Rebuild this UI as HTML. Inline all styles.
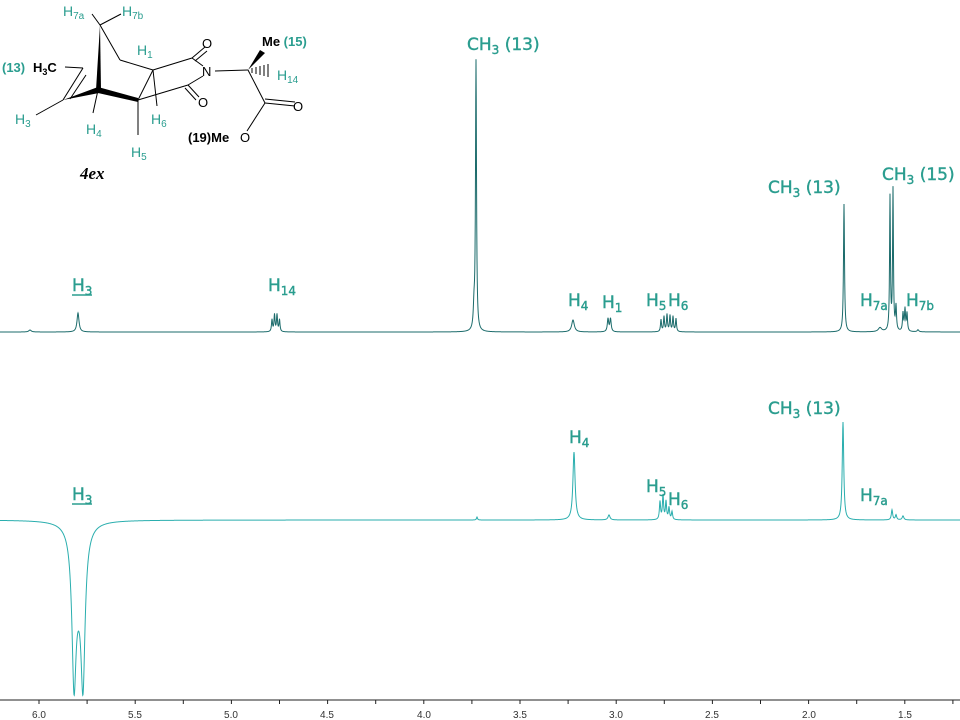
<!DOCTYPE html>
<html><head><meta charset="utf-8"><style>
html,body{margin:0;padding:0;background:#fff;}
svg{display:block;}
.lb{font-family:"DejaVu Sans","Liberation Sans",sans-serif;fill:#2a9d8f;font-size:17px;stroke:#2a9d8f;stroke-width:0.4;}
.ax{font-family:"Liberation Sans",sans-serif;font-size:10px;fill:#333;}
.st{font-family:"Liberation Sans",sans-serif;font-size:13px;}
</style></head><body>
<svg id="s" width="960" height="720" viewBox="0 0 960 720" xmlns="http://www.w3.org/2000/svg">
<path id="top" fill="none" stroke="#1b6b6b" stroke-width="1"/>
<path id="bot" fill="none" stroke="#2aaeae" stroke-width="1"/>
<line x1="0" y1="700" x2="960" y2="700" stroke="#222" stroke-width="1"/>
<g id="ticks" stroke="#222" stroke-width="1"></g>
<g class="ax" text-anchor="middle">
<text x="39" y="718">6.0</text><text x="135" y="718">5.5</text><text x="231" y="718">5.0</text><text x="327" y="718">4.5</text><text x="424" y="718">4.0</text><text x="520" y="718">3.5</text><text x="616" y="718">3.0</text><text x="712" y="718">2.5</text><text x="809" y="718">2.0</text><text x="905" y="718">1.5</text>
</g>
<g class="lb">
<text x="467" y="50">CH<tspan font-size="12" dy="4">3</tspan><tspan dy="-4"> (13)</tspan></text>
<text x="768" y="193">CH<tspan font-size="12" dy="4">3</tspan><tspan dy="-4"> (13)</tspan></text>
<text x="882" y="180">CH<tspan font-size="12" dy="4">3</tspan><tspan dy="-4"> (15)</tspan></text>
<text x="72" y="291">H<tspan font-size="12" dy="4">3</tspan></text>
<line x1="72" y1="295" x2="92" y2="295" stroke="#2a9d8f" stroke-width="1.5"/>
<text x="268" y="291">H<tspan font-size="12" dy="4">14</tspan></text>
<text x="568" y="306">H<tspan font-size="12" dy="4">4</tspan></text>
<text x="602" y="308">H<tspan font-size="12" dy="4">1</tspan></text>
<text x="646" y="306">H<tspan font-size="12" dy="4">5</tspan></text>
<text x="668" y="306">H<tspan font-size="12" dy="4">6</tspan></text>
<text x="860" y="306">H<tspan font-size="12" dy="4">7a</tspan></text>
<text x="906" y="306">H<tspan font-size="12" dy="4">7b</tspan></text>
<text x="768" y="414">CH<tspan font-size="12" dy="4">3</tspan><tspan dy="-4"> (13)</tspan></text>
<text x="569" y="443">H<tspan font-size="12" dy="4">4</tspan></text>
<text x="646" y="492">H<tspan font-size="12" dy="4">5</tspan></text>
<text x="668" y="505">H<tspan font-size="12" dy="4">6</tspan></text>
<text x="860" y="501">H<tspan font-size="12" dy="4">7a</tspan></text>
<text x="72" y="500">H<tspan font-size="12" dy="4">3</tspan></text>
<line x1="72" y1="504" x2="92" y2="504" stroke="#2a9d8f" stroke-width="1.5"/>
</g>
<g stroke="#000" stroke-width="1" fill="none">
<line x1="100" y1="25" x2="120" y2="60"/>
<line x1="100" y1="25" x2="121" y2="14"/>
<line x1="100" y1="25" x2="92" y2="14"/>
<line x1="120" y1="60" x2="153" y2="70"/>
<line x1="83" y1="68" x2="63" y2="100"/>
<line x1="86" y1="75" x2="70" y2="99"/>
<line x1="65" y1="67" x2="83" y2="68"/>
<line x1="63" y1="100" x2="36" y2="115"/>
<line x1="98" y1="90" x2="93" y2="113"/>
<line x1="138" y1="100" x2="138" y2="135"/>
<line x1="153" y1="70" x2="138" y2="100"/>
<line x1="153" y1="70" x2="157" y2="106"/>
<line x1="153" y1="70" x2="192" y2="58"/>
<line x1="192" y1="58" x2="205" y2="47"/>
<line x1="195" y1="61" x2="207" y2="51"/>
<line x1="192" y1="58" x2="203" y2="66"/>
<line x1="203" y1="76" x2="188" y2="85"/>
<line x1="188" y1="85" x2="199" y2="97"/>
<line x1="185" y1="88" x2="196" y2="100"/>
<line x1="188" y1="85" x2="138" y2="100"/>
<line x1="215" y1="71" x2="248" y2="70"/>
<line x1="248" y1="70" x2="265" y2="103"/>
<line x1="265" y1="103" x2="295" y2="106"/>
<line x1="265" y1="99" x2="295" y2="102"/>
<line x1="265" y1="103" x2="247" y2="131"/>
</g>
<g fill="#000">
<polygon points="100,25 96,90 101,90"/>
<polygon points="63,100 98,87 99,93"/>
<polygon points="98,87 138,98 138,102 98,93"/>
<polygon points="248,70 260,50 265,53"/>
</g>
<g stroke="#000" stroke-width="1">
<line x1="252" y1="68" x2="252" y2="73"/><line x1="256" y1="67" x2="256" y2="74"/><line x1="260" y1="66" x2="260" y2="75"/><line x1="264" y1="65" x2="264" y2="76"/><line x1="268" y1="64" x2="268" y2="77"/>
</g>
<g class="st">
<text x="202" y="76" font-size="13">N</text>
<text x="202" y="48" font-size="13">O</text>
<text x="198" y="107" font-size="13">O</text>
<text x="293" y="111" font-size="13">O</text>
<text x="240" y="142" font-size="13">O</text>
<text x="188" y="142" font-weight="bold" font-size="13">(19)Me</text>
<text x="262" y="46" font-weight="bold" font-size="13">Me <tspan fill="#2a9d8f">(15)</tspan></text>
<text x="277" y="80" font-size="14" fill="#2a9d8f">H<tspan font-size="10" dy="3">14</tspan></text>
<text x="33" y="72" font-weight="bold" font-size="13">H<tspan font-size="9" dy="3">3</tspan><tspan dy="-3">C</tspan></text>
<text x="2" y="72" font-weight="bold" font-size="13" fill="#2a9d8f">(13)</text>
<text x="15" y="124" font-size="14" fill="#2a9d8f">H<tspan font-size="10" dy="3">3</tspan></text>
<text x="86" y="134" font-size="14" fill="#2a9d8f">H<tspan font-size="10" dy="3">4</tspan></text>
<text x="131" y="157" font-size="14" fill="#2a9d8f">H<tspan font-size="10" dy="3">5</tspan></text>
<text x="151" y="124" font-size="14" fill="#2a9d8f">H<tspan font-size="10" dy="3">6</tspan></text>
<text x="137" y="55" font-size="14" fill="#2a9d8f">H<tspan font-size="10" dy="3">1</tspan></text>
<text x="63" y="16" font-size="14" fill="#2a9d8f">H<tspan font-size="10" dy="3">7a</tspan></text>
<text x="122" y="16" font-size="14" fill="#2a9d8f">H<tspan font-size="10" dy="3">7b</tspan></text>
<text x="80" y="179" font-family="Liberation Serif,serif" font-weight="bold" font-style="italic" font-size="17">4ex</text>
</g>
</svg>
<script>
(function(){
 var tk=document.getElementById('ticks'),s='';
 for(var p=6.25;p>=1.25;p-=0.25){var x=39+(6-p)*192.4;if(x<0||x>960)continue;
  s+='<line x1="'+x+'" y1="700" x2="'+x+'" y2="704"/>';}
 tk.innerHTML=s;
 function mk(base,peaks){var d='';for(var x=0;x<=960;x+=0.25){var y=base;
  for(var i=0;i<peaks.length;i++){var q=peaks[i],u=(x-q[0])/q[2];y-=q[1]/(1+u*u);}
  d+=(x?'L':'M')+x.toFixed(2)+' '+y.toFixed(2);}return d;}
 var top=[[30,2,1.5],[78,19,1.2],[272,12,0.6],[274.5,17,0.6],[277,17,0.6],[279.5,12,0.6],
 [476,270,0.6],[474,20,0.8],[573,12,1.6],[608,13,0.8],[610.5,13,0.8],
 [661,12,0.6],[664,15,0.6],[667,17,0.6],[670,16,0.6],[673,15,0.6],[676,13,0.6],
 [844,128,0.6],[880,4,2],[890,134,0.5],[893,141,0.5],[896,24,0.6],[903,18,0.6],[905,22,0.6],[907,18,0.6],[918,2,1]];
 var bot=[[74,-140,2.5],[83,-140,2.5],[78.5,-45,5],[477,3,0.6],[574,68,1.3],[609,5,1.2],[660,18,0.7],[663,24,0.7],[666,18,0.7],[669,12,0.7],[672,8,0.7],[843,98,0.9],[892,10,0.8],[896,5,0.8],[903,4,1]];
 document.getElementById('top').setAttribute('d',mk(332,top));
 document.getElementById('bot').setAttribute('d',mk(520,bot));
})();
</script>
</body></html>
